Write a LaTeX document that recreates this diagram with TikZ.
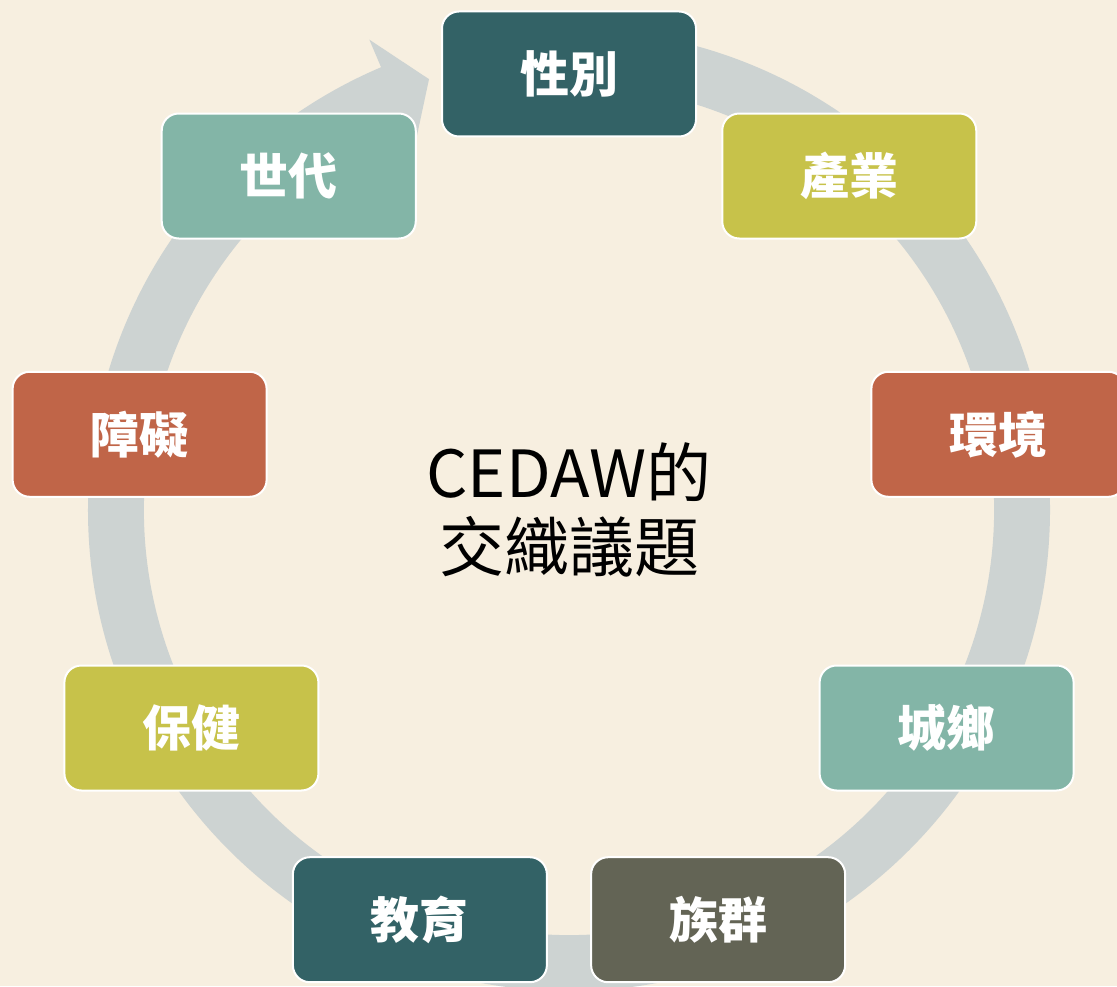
\documentclass[tikz,border=0pt]{standalone}
\usepackage{fontspec}
\newfontfamily\cjk{Noto Sans CJK TC}
\usepackage{tikz}
\usetikzlibrary{calc}

\definecolor{bgcream}{RGB}{247,239,224}
\definecolor{ringgray}{RGB}{205,211,210}
\definecolor{tealdark}{RGB}{51,98,102}
\definecolor{olivelight}{RGB}{199,194,74}
\definecolor{rust}{RGB}{192,101,72}
\definecolor{sage}{RGB}{131,181,167}
\definecolor{slate}{RGB}{99,100,85}

\begin{document}
\begin{tikzpicture}[x=0.5pt, y=0.5pt,
    topic/.style={draw=white, line width=1pt, rounded corners=8.5pt,
        minimum width=127pt, minimum height=62.5pt, text=white,
        font=\cjk\bfseries\fontsize{24.5}{28}\selectfont},
    hub/.style={align=center, font=\cjk\fontsize{32.5}{37}\selectfont}]
    \useasboundingbox [fill=bgcream] (0,0) rectangle (1117,986);
    \coordinate (c) at (569,476);

    % Ring with arrow head
    \fill [ringgray] ($(c)+(88:481)$) arc [start angle=88, end angle=-247, radius=481]
        -- ($(c)+(113:511)$) -- ($(c)+(108:453)$) -- ($(c)+(113:395)$)
        -- ($(c)+(113:425)$) arc [start angle=-247, end angle=88, radius=425] -- cycle;

    % Nodes {gender, industry, environment, etc}
    \node [topic, fill=tealdark]    (gender)      at ($(c)+(90:436)$)   {性別};
    \node [topic, fill=olivelight]  (industry)    at ($(c)+(50:436)$)   {產業};
    \node [topic, fill=rust]        (environment) at ($(c)+(10:436)$)   {環境};
    \node [topic, fill=sage]        (urbanrural)  at ($(c)+(-30:436)$)  {城鄉};
    \node [topic, fill=slate]       (ethnic)      at ($(c)+(-70:436)$)  {族群};
    \node [topic, fill=tealdark]    (education)   at ($(c)+(-110:436)$) {教育};
    \node [topic, fill=olivelight]  (health)      at ($(c)+(-150:436)$) {保健};
    \node [topic, fill=rust]        (disability)  at ($(c)+(170:436)$)  {障礙};
    \node [topic, fill=sage]        (generation)  at ($(c)+(130:436)$)  {世代};

    % Centre title
    \node [hub] (title) at (c) {CEDAW的\\交織議題};
\end{tikzpicture}
\end{document}
